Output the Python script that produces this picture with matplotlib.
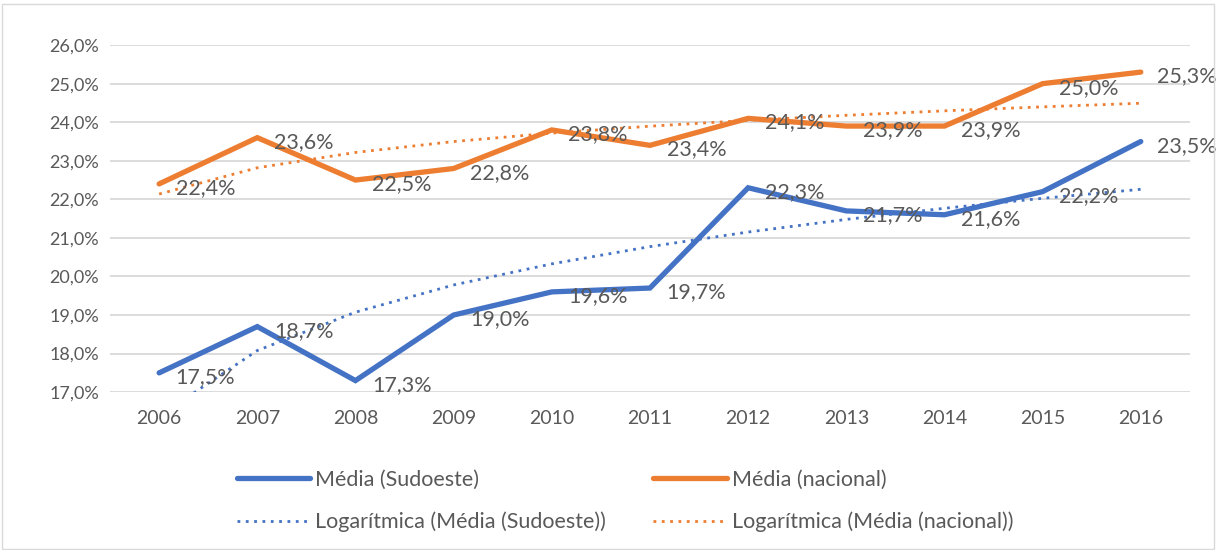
import numpy as np
import matplotlib.pyplot as plt
from matplotlib.patches import Rectangle

plt.rcParams['font.family'] = ['Lato', 'DejaVu Sans']

anos = ['2006', '2007', '2008', '2009', '2010', '2011', '2012', '2013', '2014', '2015', '2016']
sudoeste = [17.5, 18.7, 17.3, 19.0, 19.6, 19.7, 22.3, 21.7, 21.6, 22.2, 23.5]
nacional = [22.4, 23.6, 22.5, 22.8, 23.8, 23.4, 24.1, 23.9, 23.9, 25.0, 25.3]

azul = '#4472C4'
laranja = '#ED7D31'
cinza = '#595959'

fig = plt.figure(figsize=(12.16, 5.5), dpi=100)
ax = fig.add_axes([0.0905, 0.287, 0.888, 0.631])

x = np.arange(len(anos))

# tendencia logaritmica (como no Excel)
def log_fit(y):
    lx = np.log(x + 1)
    b, a = np.polyfit(lx, y, 1)
    return a + b * lx

l1, = ax.plot(x, sudoeste, color=azul, lw=3.8, solid_capstyle='round', solid_joinstyle='miter',
              label='Média (Sudoeste)', zorder=3)
l2, = ax.plot(x, nacional, color=laranja, lw=3.8, solid_capstyle='round', solid_joinstyle='miter',
              label='Média (nacional)', zorder=3)
l3, = ax.plot(x, log_fit(sudoeste), color=azul, lw=2, ls=(0, (1, 2)),
              label='Logarítmica (Média (Sudoeste))', zorder=2)
l4, = ax.plot(x, log_fit(nacional), color=laranja, lw=2, ls=(0, (1, 2)),
              label='Logarítmica (Média (nacional))', zorder=2)

for serie in (sudoeste, nacional):
    for xi, v in zip(x, serie):
        ax.annotate(f'{v:.1f}%'.replace('.', ','), (xi, v), xytext=(12, -3),
                    textcoords='offset points', ha='left', va='center',
                    fontsize=15.5, color=cinza, zorder=4)

ax.set_xlim(-0.5, 10.5)
ax.set_ylim(17, 26)
ax.set_yticks(np.arange(17, 26.5, 1))
ax.set_yticklabels([f'{t:.1f}%'.replace('.', ',') for t in np.arange(17, 26.5, 1)])
ax.set_xticks(x)
ax.set_xticklabels(anos)
ax.tick_params(length=0, labelcolor=cinza)
ax.tick_params(axis='x', labelsize=14, pad=13)
ax.tick_params(axis='y', labelsize=13, pad=8)
ax.grid(axis='y', color='#D9D9D9', lw=1.3)
ax.set_axisbelow(True)
for s in ax.spines.values():
    s.set_visible(False)

leg = fig.legend([l1, l3, l2, l4], [l.get_label() for l in (l1, l3, l2, l4)],
                 loc='center', bbox_to_anchor=(0.514, 0.089), ncol=2, frameon=False,
                 fontsize=15.5, handlelength=3.4, handletextpad=0.25, columnspacing=2.2,
                 labelspacing=1.0)
for t in leg.get_texts():
    t.set_color(cinza)

fig.patches.append(Rectangle((0.002, 0.002), 0.996, 0.99, transform=fig.transFigure,
                             fill=False, edgecolor='#D9D9D9', lw=1))

fig.savefig('out.png', dpi=100)
